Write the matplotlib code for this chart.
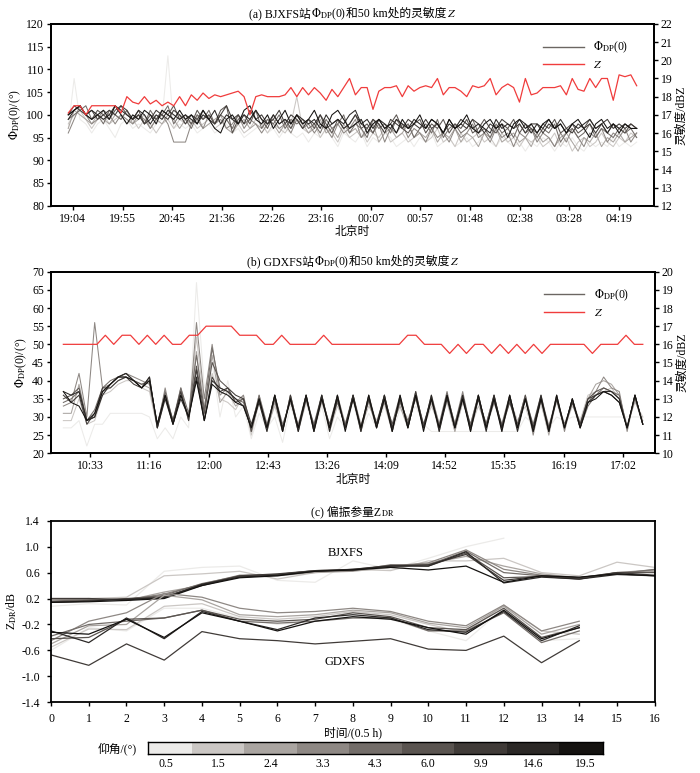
import matplotlib
matplotlib.use("Agg")
import matplotlib.pyplot as plt
import numpy as np
from matplotlib.offsetbox import AnchoredOffsetbox, HPacker, TextArea

plt.rcParams["font.family"] = ["Liberation Serif", "Noto Sans CJK SC"]
plt.rcParams["mathtext.fontset"] = "stix"
plt.rcParams["axes.unicode_minus"] = False
plt.rcParams["font.size"] = 8.5

# -----------------------------
# Data
# -----------------------------

ELEVATIONS = ["0.5", "1.5", "2.4", "3.3", "4.3", "6.0", "9.9", "14.6", "19.5"]
ELEV_COLORS = ["#ecebe9", "#cbc7c4", "#aaa5a1", "#8e8884", "#736d69",
               "#5a5450", "#403b38", "#2b2826", "#141210"]

# (a) BJXFS, times in minutes after 19:04
A_TICKS = ["19:04", "19:55", "20:45", "21:36", "22:26", "23:16",
           "00:07", "00:57", "01:48", "02:38", "03:28", "04:19"]
A_SPAN = (-4.5, 573)
A_Z = [17.1, 17.5, 17.5, 17.0, 17.5, 17.5, 17.5, 17.5, 17.5, 17.1,
       18.0, 17.7, 17.6, 18.0, 17.6, 17.8, 17.5, 17.7, 17.5, 18.0,
       17.5, 18.1, 17.8, 18.2, 17.9, 18.1, 18.0, 18.1, 18.2, 18.3,
       18.0, 17.0, 18.0, 18.1, 18.0, 18.0, 18.0, 18.1, 18.5, 18.0,
       18.5, 18.1, 18.5, 18.2, 17.8, 18.4, 18.0, 18.5, 19.0, 18.1,
       18.5, 18.5, 17.3, 18.3, 18.5, 18.5, 18.6, 18.0, 18.6, 18.3,
       18.5, 18.6, 18.5, 19.0, 18.1, 18.5, 18.5, 18.3, 18.0, 18.6,
       18.5, 18.6, 19.0, 18.1, 18.5, 18.7, 18.5, 17.7, 19.0, 18.1,
       18.2, 18.5, 18.5, 18.5, 18.6, 18.1, 19.0, 18.4, 18.3, 19.0,
       18.5, 19.0, 19.0, 17.8, 19.2, 19.1, 19.2, 18.6]

A_PHI_05 = [97, 108, 99, 98, 96, 98, 99, 97, 95, 98, 99, 97, 98, 97, 96, 98, 99, 113, 97, 98,
            97, 98, 96, 97, 98, 96, 97, 98, 96, 97, 95, 96, 97, 98, 96, 97, 95, 97, 96, 95,
            96, 94, 96, 95, 97, 95, 93, 96, 95, 94, 96, 93, 95, 94, 96, 95, 93, 94, 95, 93,
            95, 94, 96, 93, 94, 95, 93, 94, 95, 93, 94, 96, 94, 93, 95, 94, 93, 94, 92, 94,
            93, 95, 94, 92, 94, 93, 95, 93, 92, 94, 93, 94, 93, 95, 93, 94, 93, 94]
A_PHI_15 = [98, 100, 101, 99, 97, 99, 100, 98, 99, 100, 98, 99, 97, 99, 98, 96, 98, 99, 97, 99,
            98, 99, 97, 98, 99, 97, 98, 99, 97, 98, 96, 97, 99, 98, 96, 98, 97, 96, 98, 104,
            97, 96, 98, 95, 97, 96, 94, 97, 95, 96, 97, 94, 96, 95, 97, 94, 95, 96, 94, 95,
            96, 94, 95, 97, 94, 95, 93, 96, 94, 95, 96, 94, 95, 93, 96, 94, 95, 93, 95, 94,
            95, 93, 94, 96, 93, 95, 92, 94, 95, 93, 94, 96, 94, 93, 95, 94, 96, 95]
A_PHI_24 = [97, 101, 100, 99, 98, 100, 99, 98, 100, 99, 101, 98, 99, 100, 97, 99, 98, 100, 99, 97,
            99, 98, 100, 97, 98, 99, 100, 97, 96, 98, 99, 97, 98, 97, 99, 98, 96, 98, 97, 99,
            98, 96, 97, 99, 96, 97, 95, 98, 96, 97, 95, 96, 98, 94, 96, 97, 95, 96, 98, 95,
            96, 95, 97, 94, 96, 95, 97, 94, 96, 95, 93, 96, 95, 97, 94, 95, 96, 94, 95, 93,
            96, 94, 95, 93, 95, 96, 94, 92, 95, 94, 96, 93, 95, 94, 96, 94, 95, 96]
A_PHI_33 = [96, 99, 102, 100, 98, 99, 101, 100, 98, 100, 99, 98, 100, 99, 97, 99, 100, 98, 94, 94,
            94, 98, 99, 97, 100, 98, 99, 97, 98, 100, 97, 99, 98, 96, 98, 99, 97, 98, 96, 99,
            97, 98, 96, 98, 97, 95, 98, 96, 97, 99, 95, 97, 96, 98, 94, 97, 96, 98, 95, 97,
            96, 94, 97, 95, 96, 94, 97, 95, 96, 98, 95, 96, 94, 97, 95, 96, 93, 96, 95, 97,
            94, 96, 95, 93, 96, 94, 97, 95, 93, 96, 95, 97, 94, 96, 95, 97, 94, 96]
A_PHI_43 = [99, 100, 101, 102, 99, 100, 98, 101, 100, 99, 101, 99, 100, 98, 101, 99, 100, 102, 98, 100,
            99, 97, 100, 99, 101, 98, 100, 99, 97, 100, 98, 99, 101, 97, 99, 98, 100, 97, 99, 98,
            99, 97, 98, 96, 99, 97, 98, 100, 96, 98, 97, 95, 99, 97, 98, 96, 99, 97, 98, 95,
            97, 98, 96, 99, 95, 97, 98, 96, 97, 99, 96, 97, 95, 98, 96, 97, 95, 98, 96, 97,
            95, 97, 96, 98, 94, 96, 97, 95, 96, 98, 95, 97, 96, 95, 97, 96, 97, 95]
A_PHI_60 = [100, 101, 102, 100, 99, 101, 100, 99, 101, 102, 100, 99, 101, 98, 100, 99, 101, 100, 102, 99,
            100, 98, 101, 99, 100, 98, 101, 102, 96, 99, 100, 98, 101, 99, 97, 100, 98, 99, 97, 100,
            98, 99, 97, 100, 98, 96, 99, 97, 98, 100, 97, 98, 96, 99, 97, 98, 100, 97, 96, 98,
            99, 96, 98, 97, 99, 96, 98, 97, 99, 96, 97, 99, 97, 96, 98, 97, 99, 96, 98, 97,
            96, 98, 97, 99, 96, 97, 98, 96, 97, 99, 97, 98, 96, 98, 97, 96, 98, 97]
A_PHI_99 = [100, 102, 101, 100, 101, 99, 100, 101, 100, 102, 101, 99, 100, 98, 99, 101, 100, 99, 101, 100,
            98, 100, 99, 101, 99, 98, 100, 102, 99, 100, 98, 101, 99, 100, 98, 99, 101, 98, 100, 99,
            97, 99, 98, 100, 97, 98, 99, 97, 98, 100, 98, 97, 99, 98, 96, 99, 98, 97, 99, 98,
            97, 99, 97, 98, 96, 99, 97, 98, 97, 99, 98, 96, 98, 97, 99, 98, 97, 98, 96, 98,
            98, 96, 98, 97, 99, 97, 96, 98, 97, 98, 96, 98, 99, 97, 98, 97, 98, 97]
A_PHI_146 = [99, 101, 102, 100, 101, 100, 99, 100, 102, 101, 100, 99, 101, 100, 98, 100, 99, 101, 100, 99,
             100, 99, 98, 100, 99, 101, 98, 100, 99, 98, 100, 99, 101, 99, 98, 100, 98, 99, 98, 100,
             99, 98, 99, 97, 100, 98, 99, 98, 100, 101, 98, 99, 97, 99, 98, 97, 99, 98, 97, 99,
             98, 97, 99, 98, 96, 98, 97, 99, 98, 97, 98, 97, 96, 99, 97, 98, 97, 99, 98, 96,
             98, 97, 99, 97, 98, 96, 98, 97, 98, 99, 97, 98, 96, 98, 97, 98, 97, 97]
A_PHI_195 = [100, 101, 102, 100, 99, 100, 101, 99, 102, 100, 98, 100, 99, 101, 100, 98, 101, 100, 99, 101,
             99, 100, 98, 101, 99, 97, 96, 99, 100, 98, 101, 102, 99, 98, 100, 97, 99, 101, 98, 100,
             98, 99, 101, 98, 97, 100, 101, 99, 97, 98, 99, 96, 98, 99, 97, 98, 96, 99, 97, 98,
             100, 97, 99, 98, 96, 99, 97, 98, 100, 97, 96, 98, 99, 97, 98, 95, 98, 99, 97, 98,
             96, 98, 99, 97, 98, 96, 98, 99, 97, 95, 98, 99, 97, 98, 96, 98, 97, 97]
A_PHI = [A_PHI_05, A_PHI_15, A_PHI_24, A_PHI_33, A_PHI_43,
         A_PHI_60, A_PHI_99, A_PHI_146, A_PHI_195]

# (b) GDXFS, times in minutes after 10:33
B_TICKS = ["10:33", "11:16", "12:00", "12:43", "13:26",
           "14:09", "14:52", "15:35", "16:19", "17:02"]
B_SPAN = (-19.5, 403.5)
B_Z = [16, 16, 16, 16, 16, 16.5, 16, 16.5, 16.5, 16,
       16.5, 16, 16.5, 16, 16, 16.5, 16.5, 17, 17, 17,
       17, 16.5, 16.5, 16.5, 16, 16, 16.5, 16, 16, 16,
       16, 16.5, 16, 16, 16, 16, 16, 16, 16, 16,
       16, 16.5, 16.5, 16, 16, 16, 15.5, 16, 15.5, 16,
       16, 15.5, 16, 15.5, 16, 15.5, 16, 15.5, 16, 16,
       16, 16, 16, 15.5, 16, 16, 16, 16.5, 16, 16]

B_PHI_05 = [27, 27, 29, 22, 28, 28, 31, 31, 31, 31, 31, 30, 24, 27, 24,
            30, 27, 67, 38, 45, 30, 40, 30, 33, 24, 31, 27, 30, 23, 33,
            27, 34, 26, 33, 24, 30, 27, 34, 26, 31, 27, 33, 26, 32, 30,
            33, 28, 26, 26, 26, 26, 26, 26, 26, 26, 26, 26, 26, 26, 30,
            28, 33, 27, 30, 29, 30, 30, 30, 30, 30, 30, 30, 30, 30, 30]
B_PHI_15 = [29, 29, 35, 28, 29, 36, 37, 39, 40, 40, 38, 37, 27, 35, 28,
            37, 29, 52, 33, 42, 35, 34, 32, 36, 25, 34, 27, 33, 26, 36,
            26, 34, 28, 35, 26, 33, 28, 35, 27, 33, 29, 35, 27, 34, 28,
            35, 27, 33, 28, 34, 26, 36, 27, 33, 28, 34, 27, 35, 29, 33,
            26, 35, 28, 34, 27, 33, 29, 36, 37, 37, 38, 35, 28, 34, 30]
B_PHI_24 = [31, 31, 39, 29, 30, 37, 38, 40, 41, 40, 39, 38, 28, 36, 29,
            37, 30, 48, 30, 47, 34, 37, 33, 35, 27, 36, 26, 34, 27, 35,
            27, 36, 27, 34, 28, 35, 27, 36, 28, 34, 27, 35, 28, 33, 27,
            36, 28, 34, 27, 35, 26, 34, 28, 36, 27, 35, 28, 34, 27, 35,
            27, 34, 25, 35, 27, 34, 28, 35, 39, 40, 39, 36, 27, 35, 29]
B_PHI_33 = [33, 34, 42, 30, 56, 38, 39, 41, 42, 41, 40, 39, 27, 38, 28,
            38, 29, 56, 35, 50, 36, 38, 34, 36, 26, 35, 27, 36, 28, 34,
            28, 36, 26, 35, 27, 36, 28, 35, 27, 36, 28, 34, 26, 35, 28,
            37, 27, 35, 26, 36, 28, 37, 27, 35, 28, 36, 26, 35, 28, 36,
            25, 35, 27, 36, 26, 35, 27, 34, 37, 41, 38, 37, 26, 36, 28]
B_PHI_43 = [34, 35, 37, 29, 32, 38, 40, 41, 41, 40, 38, 40, 28, 37, 29,
            38, 31, 47, 32, 49, 38, 37, 35, 34, 27, 36, 28, 35, 26, 36,
            27, 35, 28, 36, 27, 34, 28, 36, 27, 35, 28, 36, 27, 34, 29,
            35, 27, 36, 28, 37, 27, 35, 28, 36, 27, 34, 28, 36, 27, 35,
            28, 36, 27, 35, 28, 34, 27, 33, 36, 38, 37, 36, 27, 35, 28]
B_PHI_60 = [35, 36, 38, 29, 30, 37, 39, 41, 42, 40, 39, 40, 28, 36, 28,
            36, 30, 44, 31, 45, 40, 38, 34, 35, 26, 35, 27, 36, 27, 35,
            26, 36, 27, 35, 28, 36, 27, 35, 26, 36, 27, 35, 28, 36, 27,
            36, 28, 35, 27, 36, 28, 36, 26, 35, 28, 36, 27, 34, 28, 36,
            27, 35, 26, 36, 27, 35, 28, 35, 37, 38, 37, 35, 27, 36, 28]
B_PHI_99 = [36, 34, 36, 28, 31, 38, 38, 40, 41, 39, 38, 41, 27, 36, 29,
            37, 29, 43, 29, 41, 37, 38, 36, 35, 28, 35, 27, 35, 26, 36,
            27, 36, 26, 36, 27, 35, 27, 36, 27, 35, 27, 36, 26, 35, 28,
            37, 27, 35, 27, 36, 27, 35, 27, 36, 27, 35, 27, 36, 27, 35,
            26, 35, 27, 35, 27, 34, 28, 35, 36, 37, 36, 34, 27, 36, 28]
B_PHI_146 = [37, 36, 37, 29, 30, 36, 39, 41, 42, 40, 38, 41, 27, 35, 28,
             35, 30, 41, 29, 40, 38, 37, 35, 33, 27, 34, 26, 36, 27, 35,
             26, 35, 27, 36, 26, 35, 27, 36, 26, 35, 28, 36, 27, 35, 27,
             36, 27, 36, 26, 35, 27, 36, 27, 35, 26, 36, 27, 35, 26, 35,
             27, 36, 26, 35, 27, 35, 27, 34, 36, 37, 37, 35, 27, 36, 28]
B_PHI_195 = [37, 34, 33, 29, 31, 37, 39, 41, 41, 40, 38, 40, 28, 36, 28,
             36, 30, 40, 29, 39, 37, 36, 34, 33, 27, 35, 27, 36, 26, 35,
             27, 36, 26, 35, 27, 36, 26, 35, 27, 36, 27, 35, 26, 36, 27,
             36, 26, 35, 27, 36, 27, 35, 26, 36, 27, 35, 26, 36, 27, 35,
             26, 35, 26, 36, 27, 35, 27, 34, 35, 37, 36, 34, 27, 36, 28]
B_PHI = [B_PHI_05, B_PHI_15, B_PHI_24, B_PHI_33, B_PHI_43,
         B_PHI_60, B_PHI_99, B_PHI_146, B_PHI_195]

# (c) ZDR, one value per half hour
C_BJ_05 = [0.08, 0.12, 0.10, 0.62, 0.68, 0.70, 0.48, 0.45, 0.78, 0.65, 0.82, 1.00, 1.13]
C_BJ_15 = [0.15, 0.20, 0.22, 0.55, 0.58, 0.62, 0.50, 0.60, 0.65, 0.63, 0.78, 0.78, 0.82, 0.60, 0.55, 0.76, 0.68]
C_BJ_24 = [0.20, 0.20, 0.17, 0.30, 0.40, 0.55, 0.55, 0.60, 0.62, 0.68, 0.74, 0.85, 0.70, 0.58, 0.52, 0.60, 0.62]
C_BJ_33 = [0.18, 0.19, 0.18, 0.27, 0.42, 0.56, 0.57, 0.63, 0.64, 0.70, 0.75, 0.95, 0.65, 0.56, 0.50, 0.60, 0.64]
C_BJ_43 = [0.16, 0.18, 0.19, 0.25, 0.43, 0.55, 0.56, 0.62, 0.63, 0.72, 0.72, 0.93, 0.60, 0.55, 0.52, 0.58, 0.65]
C_BJ_60 = [0.15, 0.17, 0.20, 0.23, 0.40, 0.54, 0.57, 0.63, 0.65, 0.71, 0.70, 0.90, 0.52, 0.54, 0.50, 0.60, 0.60]
C_BJ_99 = [0.20, 0.20, 0.18, 0.22, 0.41, 0.55, 0.58, 0.63, 0.64, 0.70, 0.72, 0.88, 0.48, 0.55, 0.52, 0.60, 0.56]
C_BJ_146 = [0.14, 0.16, 0.19, 0.21, 0.42, 0.53, 0.56, 0.62, 0.65, 0.70, 0.70, 0.92, 0.44, 0.53, 0.50, 0.57, 0.55]
C_BJ_195 = [0.14, 0.15, 0.17, 0.20, 0.40, 0.52, 0.55, 0.62, 0.64, 0.68, 0.64, 0.70, 0.45, 0.55, 0.53, 0.58, 0.55]
C_BJ = [C_BJ_05, C_BJ_15, C_BJ_24, C_BJ_33, C_BJ_43, C_BJ_60, C_BJ_99, C_BJ_146, C_BJ_195]

C_GD_05 = [-0.60, -0.25, -0.30, 0.05, 0.05, -0.10, -0.20, -0.15, -0.10, -0.12, -0.30, -0.45, 0.05, -0.45, -0.42]
C_GD_15 = [-0.55, -0.27, -0.28, 0.08, 0.12, -0.08, -0.12, -0.08, 0.00, -0.05, -0.20, -0.32, 0.10, -0.30, -0.35]
C_GD_24 = [-0.50, -0.22, -0.20, 0.25, 0.18, -0.05, -0.08, -0.05, 0.02, -0.02, -0.18, -0.25, 0.08, -0.35, -0.20]
C_GD_33 = [-0.45, -0.15, -0.02, 0.28, 0.22, 0.05, -0.02, 0.00, 0.05, 0.00, -0.15, -0.22, 0.10, -0.30, -0.15]
C_GD_43 = [-0.38, -0.20, -0.15, -0.10, 0.02, -0.15, -0.18, -0.15, -0.10, -0.10, -0.30, -0.30, -0.02, -0.48, -0.30]
C_GD_60 = [-0.42, -0.40, -0.12, -0.10, 0.02, -0.12, -0.15, -0.12, -0.02, -0.08, -0.25, -0.28, 0.05, -0.40, -0.25]
C_GD_99 = [-0.67, -0.83, -0.50, -0.75, -0.31, -0.42, -0.45, -0.50, -0.46, -0.42, -0.58, -0.60, -0.38, -0.79, -0.45]
C_GD_146 = [-0.30, -0.48, -0.10, -0.42, 0.00, -0.15, -0.28, -0.10, -0.05, -0.10, -0.28, -0.32, 0.00, -0.45, -0.22]
C_GD_195 = [-0.32, -0.35, -0.12, -0.40, -0.02, -0.15, -0.30, -0.15, -0.08, -0.12, -0.25, -0.35, 0.02, -0.42, -0.25]
C_GD = [C_GD_05, C_GD_15, C_GD_24, C_GD_33, C_GD_43, C_GD_60, C_GD_99, C_GD_146, C_GD_195]

PHI_LABEL = r"$\mathit{\Phi}_{\rm DP}$(0)"


def to_minutes(labels):
    out = []
    base = None
    for s in labels:
        h, m = map(int, s.split(":"))
        v = h * 60 + m
        if base is None:
            base = v
        d = v - base
        if d < 0:
            d += 1440
        out.append(d)
    return out


def style_axis(ax, pad=2):
    for sp in ax.spines.values():
        sp.set_linewidth(1.3)
    ax.tick_params(direction="out", length=3, width=1, labelsize=8.5, pad=pad)


def rich_title(ax, parts):
    # mathtext cannot fall back to the CJK font, so the title is packed from pieces
    boxes = [TextArea(s, textprops=dict(fontsize=8.5)) for s in parts]
    pack = HPacker(children=boxes, align="baseline", pad=0, sep=0)
    box = AnchoredOffsetbox(loc="lower center", child=pack, pad=0, borderpad=0,
                            frameon=False, bbox_to_anchor=(0.5, 1.012),
                            bbox_transform=ax.transAxes)
    fig.add_artist(box)


def phi_panel(rect, title_parts, ticks, span, xlim, phis, z, ylim, zlim, yticks, zticks):
    ax = fig.add_axes(rect)
    for vals, col in zip(phis, ELEV_COLORS):
        x = np.linspace(span[0], span[1], len(vals))
        ax.plot(x, vals, color=col, lw=0.75)
    ax.set_xlim(*xlim)
    ax.set_ylim(*ylim)
    ax.set_yticks(yticks)
    ax.set_xticks(to_minutes(ticks))
    ax.set_xticklabels(ticks)
    ax.set_xlabel("北京时", labelpad=1)
    ax.set_ylabel(PHI_LABEL + "/(°)", labelpad=2)
    style_axis(ax)
    rich_title(ax, title_parts)

    ax2 = ax.twinx()
    xz = np.linspace(span[0], span[1], len(z))
    ax2.plot(xz, z, color="#f03c3c", lw=0.9)
    ax2.set_ylim(*zlim)
    ax2.set_yticks(zticks)
    ax2.set_ylabel("灵敏度/dBZ", labelpad=2)
    style_axis(ax2)

    h1, = ax2.plot([], [], color="#6b6662", lw=1.0)
    h2, = ax2.plot([], [], color="#f03c3c", lw=1.0)
    ax2.legend([h1, h2], [PHI_LABEL, r"$Z$"], loc="upper right",
               bbox_to_anchor=(0.975, 0.97), frameon=False, handlelength=3.4,
               fontsize=8.5, labelspacing=0.3)
    return ax


fig = plt.figure(figsize=(7.0, 7.73), dpi=100)

phi_panel([0.0729, 0.7339, 0.8614, 0.2351],
          ["(a) BJXFS站", r"$\mathit{\Phi}_{\rm DP}$(0)", "和50 km处的灵敏度", r"$Z$"],
          A_TICKS, A_SPAN, (-22, 590.6), A_PHI, A_Z,
          (80, 120), (12, 22), np.arange(80, 121, 5), np.arange(12, 23, 1))

phi_panel([0.0729, 0.4136, 0.8624, 0.2349],
          ["(b) GDXFS站", r"$\mathit{\Phi}_{\rm DP}$(0)", "和50 km处的灵敏度", r"$Z$"],
          B_TICKS, B_SPAN, (-28.5, 412.2), B_PHI, B_Z,
          (20, 70), (10, 20), np.arange(20, 71, 5), np.arange(10, 21, 1))

# (c)
axc = fig.add_axes([0.0729, 0.0915, 0.8624, 0.2349])
for vals, col in zip(C_BJ, ELEV_COLORS):
    axc.plot(np.arange(len(vals)), vals, color=col, lw=0.9)
for vals, col in zip(C_GD, ELEV_COLORS):
    axc.plot(np.arange(len(vals)), vals, color=col, lw=0.9)
axc.set_xlim(0, 16)
axc.set_ylim(-1.4, 1.4)
axc.set_xticks(np.arange(0, 17, 1))
axc.set_yticks(np.arange(-1.4, 1.41, 0.4))
axc.set_yticklabels([f"{v:.1f}" for v in np.arange(-1.4, 1.41, 0.4)])
axc.text(7.8, 0.9, "BJXFS", ha="center", va="center", fontsize=9)
axc.text(7.8, -0.78, "GDXFS", ha="center", va="center", fontsize=9)
axc.set_xlabel("时间/(0.5 h)", labelpad=1)
axc.set_ylabel(r"Z$_{\rm DR}$/dB", labelpad=2)
style_axis(axc, pad=5)
rich_title(axc, ["(c) 偏振参量Z", r"$_{\rm DR}$"])

# elevation key
cax = fig.add_axes([148 / 700, 1 - 754 / 773, 455 / 700, 12.3 / 773])
for k, col in enumerate(ELEV_COLORS):
    cax.bar(k, 1, width=1.0, color=col, edgecolor="none")
cax.set_xlim(-0.333, 8.333)
cax.set_ylim(0, 1)
cax.set_xticks(range(len(ELEVATIONS)))
cax.set_xticklabels(ELEVATIONS)
cax.set_yticks([])
cax.tick_params(length=0, pad=3, labelsize=8.5)
for sp in cax.spines.values():
    sp.set_linewidth(1.0)
fig.text(117 / 700, 1 - 749 / 773, "仰角/(°)", ha="center", va="center", fontsize=8.5)

fig.savefig("out.png", dpi=100)
